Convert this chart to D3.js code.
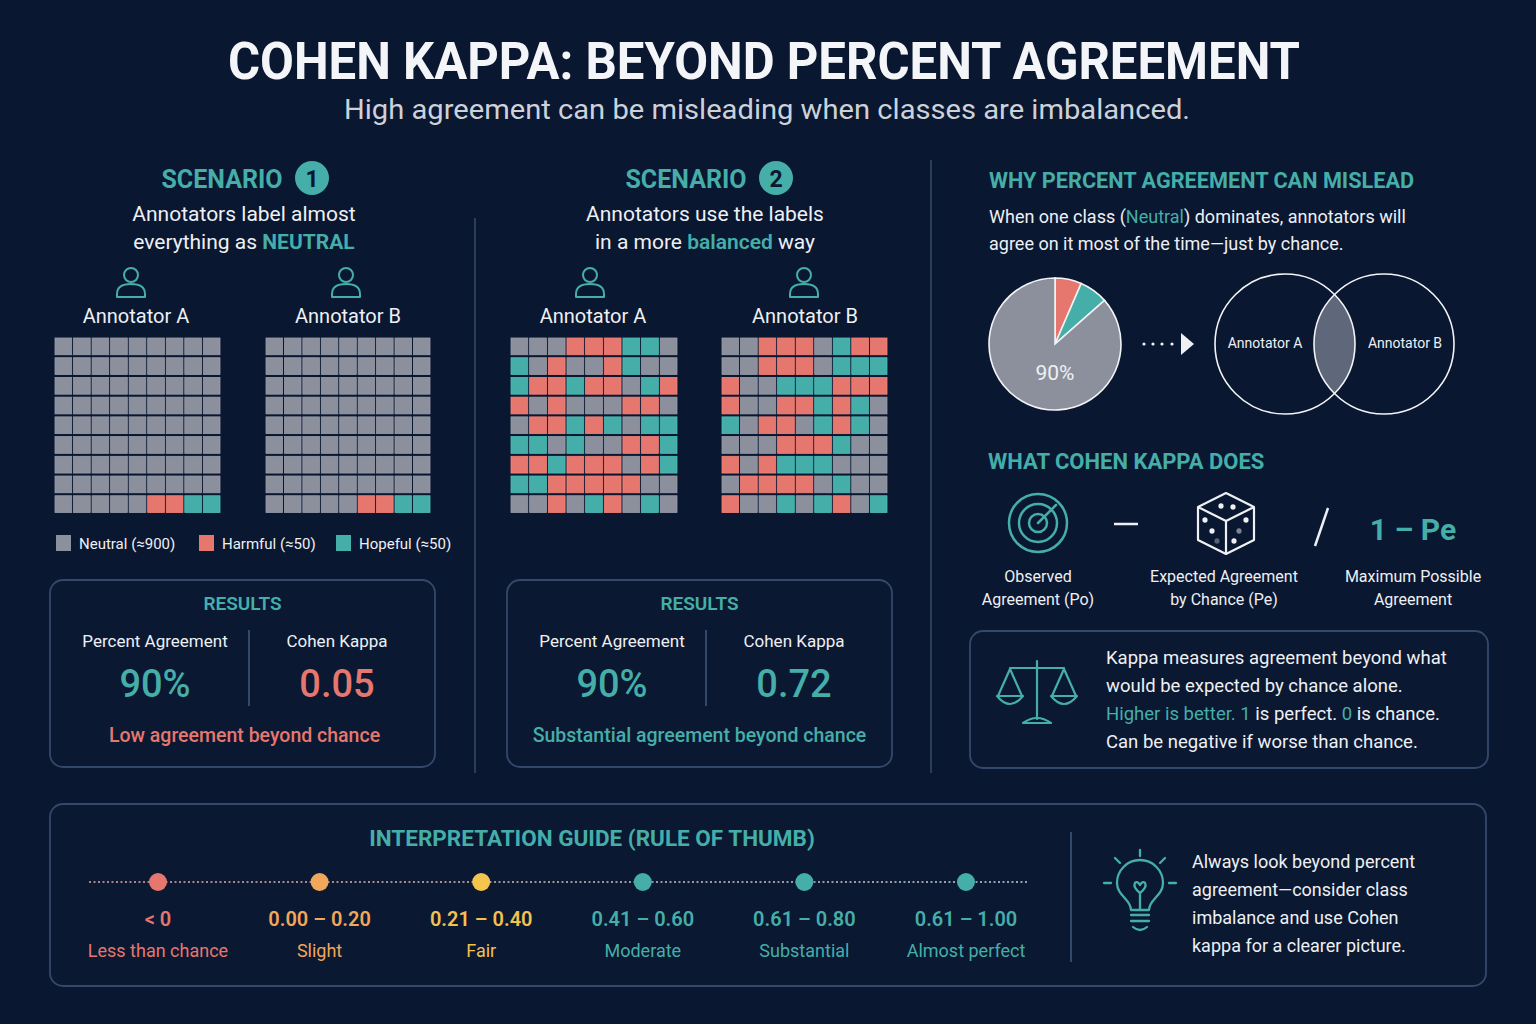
<!DOCTYPE html>
<html>
<head>
<meta charset="utf-8">
<script src="https://cdn.jsdelivr.net/npm/d3@7"></script>
<style>
  html, body { margin: 0; padding: 0; background: #0a1730; }
  svg { display: block; font-family: Roboto, "Noto Sans", sans-serif; }
</style>
</head>
<body>
<svg id="chart"></svg>
<script>
const width = 1536;
const height = 1024;

// class codes: N = Neutral, H = Harmful, P = Hopeful (9 x 9 grids, row by row)
const scenario1A = [
    "NNNNNNNNN", "NNNNNNNNN", "NNNNNNNNN", "NNNNNNNNN", "NNNNNNNNN",
    "NNNNNNNNN", "NNNNNNNNN", "NNNNNNNNN", "NNNNNHHPP"
];
const scenario1B = [
    "NNNNNNNNN", "NNNNNNNNN", "NNNNNNNNN", "NNNNNNNNN", "NNNNNNNNN",
    "NNNNNNNNN", "NNNNNNNNN", "NNNNNNNNN", "NNNNNHHPP"
];
const scenario2A = [
    "NNNHHHPPN", "PNHNNHPNN", "PHHPHHNPH", "HNHNNNHHN", "NHHPHPNPP",
    "PPNPNNHHP", "HHPHHHNHP", "PPHHHHHNN", "NNHNPHNPN"
];
const scenario2B = [
    "NNHHHNPHH", "NNHHHNPPP", "HNNPPPHHH", "HNNHHPHPN", "PNHHNPHPN",
    "NNNHHHPNN", "HNHPPPNNN", "NHHHHNPNN", "HNNPNPHNP"
];
const classCodes = ["N", "H", "P"];
const classNames = ["Neutral (≈900)", "Harmful (≈50)", "Hopeful (≈50)"];

const pieLabels = ["Harmful", "Hopeful", "Neutral"];
const pieValues = [6.5, 7, 86.5];

const resultLabels = ["Percent Agreement", "Cohen Kappa"];
const percentAgreement = ["90%", "90%"];
const kappaValues = ["0.05", "0.72"];
const verdicts = ["Low agreement beyond chance", "Substantial agreement beyond chance"];

const guideRanges = ["< 0", "0.00 – 0.20", "0.21 – 0.40", "0.41 – 0.60", "0.61 – 0.80", "0.61 – 1.00"];
const guideNames = ["Less than chance", "Slight", "Fair", "Moderate", "Substantial", "Almost perfect"];

const teal = "#45aea9";
const red = "#e5776f";
const gray = "#8c909c";
const white = "#eef0f4";
const boxStroke = "#33486a";
const guideColors = [red, "#f2a65a", "#f4c54c", teal, teal, teal];
const guideText = [red, "#f2a65a", "#f2c14e", teal, teal, teal];
const colorOf = d3.scaleOrdinal().domain(classCodes).range([gray, red, teal]);

let svg = d3.select("#chart")
    .attr("width", width)
    .attr("height", height)
    .attr("viewBox", [0, 0, width, height]);
let defs = svg.append("defs");

svg.append("rect")
    .attr("width", width)
    .attr("height", height)
    .attr("fill", "#0a1730");

// text with coloured pieces
function richText(g, x, y, parts, size, anchor, weight) {
    let t = g.append("text")
        .attr("x", x)
        .attr("y", y)
        .attr("text-anchor", anchor || "start")
        .attr("font-size", size)
        .attr("font-weight", weight || 400)
        .attr("fill", white);
    parts.forEach(p => {
        let s = t.append("tspan").text(p[0]);
        if (p[1]) s.attr("fill", p[1]);
        if (p[2]) s.attr("font-weight", p[2]);
    });
    return t;
}

function label(g, x, y, text, size, color, anchor, weight) {
    return g.append("text")
        .attr("x", x)
        .attr("y", y)
        .attr("text-anchor", anchor || "middle")
        .attr("font-size", size)
        .attr("font-weight", weight || 400)
        .attr("fill", color || white)
        .text(text);
}

// ---- header
svg.append("text")
    .attr("x", 764)
    .attr("y", 79)
    .attr("text-anchor", "middle")
    .attr("font-size", 52)
    .attr("font-weight", 700)
    .attr("fill", "#f4f5f8")
    .attr("textLength", 1072)
    .attr("lengthAdjust", "spacingAndGlyphs")
    .text("COHEN KAPPA: BEYOND PERCENT AGREEMENT");
svg.append("text")
    .attr("x", 767)
    .attr("y", 119)
    .attr("text-anchor", "middle")
    .attr("font-size", 28)
    .attr("fill", "#cdd2da")
    .attr("textLength", 846)
    .attr("lengthAdjust", "spacingAndGlyphs")
    .text("High agreement can be misleading when classes are imbalanced.");

// ---- section dividers
svg.append("line").attr("x1", 475).attr("x2", 475).attr("y1", 218).attr("y2", 773)
    .attr("stroke", "#2a3d59").attr("stroke-width", 2);
svg.append("line").attr("x1", 931).attr("x2", 931).attr("y1", 160).attr("y2", 773)
    .attr("stroke", "#2a3d59").attr("stroke-width", 2);

function person(g, cx) {
    g.append("circle")
        .attr("cx", cx).attr("cy", 275).attr("r", 7)
        .attr("fill", "none").attr("stroke", teal).attr("stroke-width", 2);
    g.append("path")
        .attr("d", `M${cx - 14},297 L${cx - 14},294 Q${cx - 14},284 ${cx},284 Q${cx + 14},284 ${cx + 14},294 L${cx + 14},297 Z`)
        .attr("fill", "none").attr("stroke", teal).attr("stroke-width", 2)
        .attr("stroke-linejoin", "round");
}

function grid(g, rows, x0, x1) {
    let cells = [];
    rows.forEach((r, i) => r.split("").forEach((c, j) => cells.push({row: i, col: j, code: c})));
    let x = d3.scaleBand().domain(d3.range(9)).range([x0, x1]).paddingInner(0.1);
    let y = d3.scaleBand().domain(d3.range(9)).range([338, 512.5]).paddingInner(0.15);
    g.append("g")
        .selectAll("rect")
        .data(cells)
        .join("rect")
        .attr("x", d => x(d.col))
        .attr("y", d => y(d.row))
        .attr("width", x.bandwidth())
        .attr("height", y.bandwidth())
        .attr("fill", d => colorOf(d.code))
        .attr("stroke", d => d3.color(colorOf(d.code)).brighter(0.25))
        .attr("stroke-width", 0.8);
}

function resultsBox(g, x0, x1, i) {
    let cx = (x0 + x1) / 2;
    g.append("rect")
        .attr("x", x0).attr("y", 580).attr("width", x1 - x0).attr("height", 187)
        .attr("rx", 13)
        .attr("fill", "#0b1831").attr("stroke", boxStroke).attr("stroke-width", 1.8);
    label(g, cx, 610, "RESULTS", 19, teal, "middle", 600);
    let divX = x0 + 199;
    g.append("line").attr("x1", divX).attr("x2", divX).attr("y1", 630).attr("y2", 706)
        .attr("stroke", boxStroke).attr("stroke-width", 2);
    let lx = x0 + 105, rx = x0 + 287;
    label(g, lx, 647, resultLabels[0], 17, white);
    label(g, rx, 647, resultLabels[1], 17, white);
    label(g, lx, 697, percentAgreement[i], 38, teal, "middle", 500);
    label(g, rx, 697, kappaValues[i], 38, i === 0 ? red : teal, "middle", 500);
    label(g, cx + (i === 0 ? 2 : 0), 742, verdicts[i], 19.5, i === 0 ? red : teal, "middle", 500);
}

function scenarioTitle(g, cx, num) {
    label(g, cx - 23, 188, "SCENARIO", 25, teal, "middle", 700);
    g.append("circle").attr("cx", cx + 67).attr("cy", 178).attr("r", 17).attr("fill", teal);
    label(g, cx + 67, 187, num, 23, "#0a1730", "middle", 700);
}

// ---- scenario 1
let s1 = svg.append("g");
scenarioTitle(s1, 245, "1");
label(s1, 244, 221, "Annotators label almost", 21, white);
richText(s1, 244, 249, [["everything as "], ["NEUTRAL", teal, 700]], 21, "middle");
person(s1, 131);
person(s1, 346);
label(s1, 136, 323, "Annotator A", 20, white);
label(s1, 348, 323, "Annotator B", 20, white);
grid(s1, scenario1A, 55, 220);
grid(s1, scenario1B, 266, 430);

let legendX = [56, 199, 336];
classCodes.forEach((c, i) => {
    s1.append("rect")
        .attr("x", legendX[i]).attr("y", 535).attr("width", 15).attr("height", 16)
        .attr("fill", colorOf(c));
    label(s1, legendX[i] + 23, 549, classNames[i], 15, white, "start");
});
resultsBox(s1, 50, 435, 0);

// ---- scenario 2
let s2 = svg.append("g");
scenarioTitle(s2, 709, "2");
label(s2, 705, 221, "Annotators use the labels", 21, white);
richText(s2, 705, 249, [["in a more "], ["balanced", teal, 600], [" way"]], 21, "middle");
person(s2, 590);
person(s2, 804);
label(s2, 593, 323, "Annotator A", 20, white);
label(s2, 805, 323, "Annotator B", 20, white);
grid(s2, scenario2A, 511, 677);
grid(s2, scenario2B, 722, 887);
resultsBox(s2, 507, 892, 1);

// ---- why percent agreement can mislead
let r1 = svg.append("g");
label(r1, 989, 188, "WHY PERCENT AGREEMENT CAN MISLEAD", 21.7, teal, "start", 700);
richText(r1, 989, 223, [["When one class ("], ["Neutral", teal], [") dominates, annotators will"]], 18);
label(r1, 989, 250, "agree on it most of the time—just by chance.", 18, white, "start");

let pie = d3.pie().sort(null).value(d => d.value);
let arc = d3.arc().innerRadius(0).outerRadius(66);
let pieData = pieLabels.map((l, i) => ({label: l, value: pieValues[i]}));
let pieColor = d3.scaleOrdinal().domain(pieLabels).range([red, teal, gray]);
let pg = r1.append("g").attr("transform", "translate(1055,344)");
pg.selectAll("path")
    .data(pie(pieData))
    .join("path")
    .attr("d", arc)
    .attr("fill", d => pieColor(d.data.label))
    .attr("stroke", "#f2f3f6")
    .attr("stroke-width", 1.6);
label(pg, 0, 36, "90%", 21, white);

[1144, 1153, 1162, 1172].forEach(x => {
    r1.append("circle").attr("cx", x).attr("cy", 344).attr("r", 1.6).attr("fill", white);
});
r1.append("path").attr("d", "M1181,333 L1194,344 L1181,355 Z").attr("fill", white);

// venn
let vA = {x: 1285, y: 344, r: 70}, vB = {x: 1384, y: 344, r: 70};
defs.append("clipPath").attr("id", "clipA")
    .append("circle").attr("cx", vA.x).attr("cy", vA.y).attr("r", vA.r);
r1.append("circle").attr("cx", vB.x).attr("cy", vB.y).attr("r", vB.r)
    .attr("fill", "#5f677a").attr("clip-path", "url(#clipA)");
[vA, vB].forEach(c => {
    r1.append("circle").attr("cx", c.x).attr("cy", c.y).attr("r", c.r)
        .attr("fill", "none").attr("stroke", "#f2f3f6").attr("stroke-width", 1.6);
});
label(r1, 1265, 348, "Annotator A", 14, white);
label(r1, 1405, 348, "Annotator B", 14, white);

// ---- what cohen kappa does
let r2 = svg.append("g");
label(r2, 988, 469, "WHAT COHEN KAPPA DOES", 22, teal, "start", 700);
[29, 19, 9].forEach(r => {
    r2.append("circle").attr("cx", 1038).attr("cy", 523).attr("r", r)
        .attr("fill", "none").attr("stroke", teal).attr("stroke-width", 2.5);
});
r2.append("line").attr("x1", 1038).attr("y1", 523).attr("x2", 1056).attr("y2", 505)
    .attr("stroke", teal).attr("stroke-width", 2.5).attr("stroke-linecap", "round");
r2.append("line").attr("x1", 1114).attr("x2", 1138).attr("y1", 524).attr("y2", 524)
    .attr("stroke", white).attr("stroke-width", 2.5);
// dice
r2.append("path")
    .attr("d", "M1226,493 L1254,507 L1254,540 L1226,554 L1198,540 L1198,507 Z M1198,507 L1226,521 L1254,507 M1226,521 L1226,554")
    .attr("fill", "none").attr("stroke", white).attr("stroke-width", 2.2).attr("stroke-linejoin", "round");
[[1221, 506, 1], [1233, 507, 1], [1205, 520, 1], [1212, 531, 1], [1217, 541, 0.35],
 [1246, 520, 1], [1239, 531, 0.5], [1234, 541, 1]].forEach(p => {
    r2.append("ellipse").attr("cx", p[0]).attr("cy", p[1]).attr("rx", 2.6).attr("ry", 2.8)
        .attr("fill", white).attr("fill-opacity", p[2]);
});
r2.append("line").attr("x1", 1328).attr("y1", 508).attr("x2", 1315).attr("y2", 546)
    .attr("stroke", white).attr("stroke-width", 2.5);
label(r2, 1413, 540, "1 – Pe", 30, teal, "middle", 700);
label(r2, 1038, 582, "Observed", 16, white);
label(r2, 1038, 605, "Agreement (Po)", 16, white);
label(r2, 1224, 582, "Expected Agreement", 16, white);
label(r2, 1224, 605, "by Chance (Pe)", 16, white);
label(r2, 1413, 582, "Maximum Possible", 16, white);
label(r2, 1413, 605, "Agreement", 16, white);

// kappa box
let r3 = svg.append("g");
r3.append("rect").attr("x", 970).attr("y", 631).attr("width", 518).attr("height", 137).attr("rx", 13)
    .attr("fill", "#0b1831").attr("stroke", boxStroke).attr("stroke-width", 1.8);
let sc = r3.append("g").attr("fill", "none").attr("stroke", teal).attr("stroke-width", 2.2)
    .attr("stroke-linejoin", "round").attr("stroke-linecap", "round");
sc.append("path").attr("d", "M1037,661 L1037,719 M1010,668 L1064,668");
sc.append("path").attr("d", "M1010,669 L998,696 M1010,669 L1022,696 M997,696 L1023,696 M997,696 Q1010,712 1023,696");
sc.append("path").attr("d", "M1064,669 L1052,696 M1064,669 L1076,696 M1051,696 L1077,696 M1051,696 Q1064,712 1077,696");
sc.append("path").attr("d", "M1023,723 Q1037,713 1051,723 Z");
richText(r3, 1106, 664, [["Kappa measures agreement beyond what"]], 18.5);
richText(r3, 1106, 692, [["would be expected by chance alone."]], 18.5);
richText(r3, 1106, 720, [["Higher is better.", teal], [" "], ["1", teal], [" is perfect. "], ["0", teal], [" is chance."]], 18.5);
richText(r3, 1106, 748, [["Can be negative if worse than chance."]], 18.5);

// ---- interpretation guide
let b = svg.append("g");
b.append("rect").attr("x", 50).attr("y", 804).attr("width", 1436).attr("height", 182).attr("rx", 13)
    .attr("fill", "#0b1831").attr("stroke", boxStroke).attr("stroke-width", 1.8);
label(b, 592, 846, "INTERPRETATION GUIDE (RULE OF THUMB)", 22.5, teal, "middle", 700);

let grad = defs.append("linearGradient").attr("id", "guideLine")
    .attr("gradientUnits", "userSpaceOnUse")
    .attr("x1", 89).attr("x2", 1027).attr("y1", 0).attr("y2", 0);
grad.append("stop").attr("offset", "0%").attr("stop-color", "#e3a3a0");
grad.append("stop").attr("offset", "45%").attr("stop-color", "#d8b9a8");
grad.append("stop").attr("offset", "100%").attr("stop-color", "#c4ccd6");
b.append("line").attr("x1", 89).attr("x2", 1027).attr("y1", 882).attr("y2", 882)
    .attr("stroke", "url(#guideLine)").attr("stroke-width", 1.6).attr("stroke-dasharray", "2,2.5");

let gx = d3.scalePoint().domain(guideRanges).range([158, 966]);
b.selectAll("circle.stop")
    .data(guideRanges)
    .join("circle")
    .attr("class", "stop")
    .attr("cx", d => gx(d))
    .attr("cy", 882)
    .attr("r", 9)
    .attr("fill", (d, i) => guideColors[i]);
b.selectAll("text.range")
    .data(guideRanges)
    .join("text")
    .attr("class", "range")
    .attr("x", d => gx(d))
    .attr("y", 926)
    .attr("text-anchor", "middle")
    .attr("font-size", 20)
    .attr("font-weight", 600)
    .attr("fill", (d, i) => guideText[i])
    .text(d => d);
b.selectAll("text.name")
    .data(guideNames)
    .join("text")
    .attr("class", "name")
    .attr("x", (d, i) => gx(guideRanges[i]))
    .attr("y", 957)
    .attr("text-anchor", "middle")
    .attr("font-size", 18)
    .attr("fill", (d, i) => guideText[i])
    .text(d => d);

b.append("line").attr("x1", 1071).attr("x2", 1071).attr("y1", 832).attr("y2", 962)
    .attr("stroke", boxStroke).attr("stroke-width", 2);

// lightbulb
let lb = b.append("g").attr("fill", "none").attr("stroke", teal).attr("stroke-width", 2.3)
    .attr("stroke-linecap", "round").attr("stroke-linejoin", "round");
lb.append("path").attr("d", "M1131,910 C1131,899 1117,896 1117,883 A23,23 0 1 1 1163,883 C1163,896 1149,899 1149,910 Z");
lb.append("path").attr("d", "M1140,910 L1140,893 M1140,893 C1130,885 1136,878 1140,885 C1144,878 1150,885 1140,893");
lb.append("path").attr("d", "M1131,915 L1149,915 M1131,921 L1149,921 M1133,927 Q1140,933 1147,927");
lb.append("path").attr("d", "M1140,850 L1140,856 M1115,858 L1120,863 M1165,858 L1160,863 M1104,883 L1111,883 M1169,883 L1176,883");
["Always look beyond percent", "agreement—consider class", "imbalance and use Cohen", "kappa for a clearer picture."]
    .forEach((t, i) => label(b, 1192, 868 + i * 28, t, 18, white, "start"));
</script>
</body>
</html>
